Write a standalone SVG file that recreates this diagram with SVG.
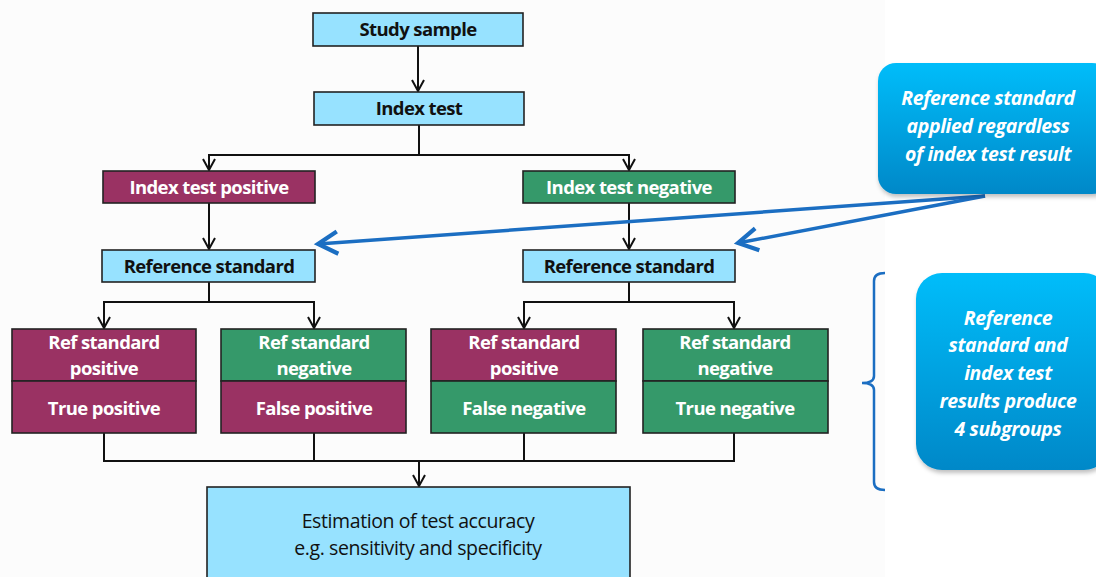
<svg xmlns="http://www.w3.org/2000/svg" width="1096" height="577" viewBox="0 0 1096 577">
<defs>
<style>
.lb{fill:#97E2FF;stroke:#222;stroke-width:1.6}
.mg{fill:#9A3263;stroke:#222;stroke-width:1.6}
.gr{fill:#35996A;stroke:#222;stroke-width:1.6}
.tk{font-family:"Open Sans","Liberation Sans",sans-serif;font-weight:bold;font-size:18.5px;fill:#111;text-anchor:middle;letter-spacing:-0.6px}
.tw{font-family:"Open Sans","Liberation Sans",sans-serif;font-weight:bold;font-size:18.5px;fill:#fff;text-anchor:middle;letter-spacing:-0.6px}
.tn{font-family:"Open Sans","Liberation Sans",sans-serif;font-size:19.5px;fill:#111;text-anchor:middle;letter-spacing:-0.4px}
.ti{font-family:"Open Sans","Liberation Sans",sans-serif;font-weight:bold;font-style:italic;font-size:19.5px;fill:#fff;text-anchor:middle;letter-spacing:-0.4px}
.ln{fill:none;stroke:#111;stroke-width:2}
.bl{fill:none;stroke:#1B6EC2;stroke-width:3.5}
</style>
<marker id="ah" viewBox="0 0 14 14" refX="12" refY="7" markerWidth="14" markerHeight="14" markerUnits="userSpaceOnUse" orient="auto">
<path d="M1,1 L12,7 L1,13" fill="none" stroke="#111" stroke-width="2"/>
</marker>
<marker id="bh" viewBox="0 0 10 10" refX="8" refY="5" markerWidth="8" markerHeight="8" orient="auto">
<path d="M1,1 L8,5 L1,9" fill="none" stroke="#1B6EC2" stroke-width="1.5"/>
</marker>
<linearGradient id="cg" x1="0" y1="0" x2="0" y2="1">
<stop offset="0" stop-color="#00BDFA"/>
<stop offset="1" stop-color="#0088C8"/>
</linearGradient>
<filter id="sh" x="-10%" y="-10%" width="130%" height="130%">
<feDropShadow dx="1" dy="3" stdDeviation="2" flood-color="#000" flood-opacity="0.25"/>
</filter>
</defs>
<rect x="0" y="0" width="1096" height="577" fill="#fff"/>
<rect x="0" y="0" width="885" height="577" fill="#FCFCFC"/>

<g id="connectors">
<path class="ln" d="M418,46 V91" marker-end="url(#ah)"/>
<path class="ln" d="M419,125 V155 H209 V170" marker-end="url(#ah)"/>
<path class="ln" d="M419,155 H629 V170" marker-end="url(#ah)"/>
<path class="ln" d="M209,203 V249" marker-end="url(#ah)"/>
<path class="ln" d="M629,203 V249" marker-end="url(#ah)"/>
<path class="ln" d="M209,282 V302 H104 V328" marker-end="url(#ah)"/>
<path class="ln" d="M209,302 H314 V328" marker-end="url(#ah)"/>
<path class="ln" d="M629,282 V302 H524 V328" marker-end="url(#ah)"/>
<path class="ln" d="M629,302 H734 V328" marker-end="url(#ah)"/>
<path class="ln" d="M104,433 V461 H734 V433"/>
<path class="ln" d="M314,433 V461"/>
<path class="ln" d="M524,433 V461"/>
<path class="ln" d="M419,461 V486" marker-end="url(#ah)"/>
<path class="bl" d="M985,196 L318,244" marker-end="url(#bh)"/>
<path class="bl" d="M985,196 L738,243" marker-end="url(#bh)"/>
<path fill="none" stroke="#1B6EC2" stroke-width="2.5" d="M885,273 Q874,273 874,281 V376 Q874,383 862,383 Q874,383 874,390 V482 Q874,490 885,490"/>
</g>

<g id="study-sample"><rect class="lb" x="313" y="13" width="210" height="33"/><text class="tk" x="418" y="36">Study sample</text></g>
<g id="index-test"><rect class="lb" x="314" y="92" width="210" height="33"/><text class="tk" x="419" y="115">Index test</text></g>
<g id="index-positive"><rect class="mg" x="103" y="171" width="212" height="32"/><text class="tw" x="209" y="194">Index test positive</text></g>
<g id="index-negative"><rect class="gr" x="523" y="171" width="212" height="32"/><text class="tw" x="629" y="194">Index test negative</text></g>
<g id="ref-std-left"><rect class="lb" x="102" y="250" width="213" height="32"/><text class="tk" x="209" y="273">Reference standard</text></g>
<g id="ref-std-right"><rect class="lb" x="523" y="250" width="212" height="32"/><text class="tk" x="629" y="273">Reference standard</text></g>

<g id="true-positive">
<rect class="mg" x="12" y="329" width="184" height="52"/><rect class="mg" x="12" y="381" width="184" height="52"/>
<text class="tw" x="104" y="349">Ref standard</text><text class="tw" x="104" y="375">positive</text><text class="tw" x="104" y="415">True positive</text>
</g>
<g id="false-positive">
<rect class="gr" x="221" y="329" width="185" height="52"/><rect class="mg" x="221" y="381" width="185" height="52"/>
<text class="tw" x="314" y="349">Ref standard</text><text class="tw" x="314" y="375">negative</text><text class="tw" x="314" y="415">False positive</text>
</g>
<g id="false-negative">
<rect class="mg" x="431" y="329" width="185" height="52"/><rect class="gr" x="431" y="381" width="185" height="52"/>
<text class="tw" x="524" y="349">Ref standard</text><text class="tw" x="524" y="375">positive</text><text class="tw" x="524" y="415">False negative</text>
</g>
<g id="true-negative">
<rect class="gr" x="643" y="329" width="185" height="52"/><rect class="gr" x="643" y="381" width="185" height="52"/>
<text class="tw" x="735" y="349">Ref standard</text><text class="tw" x="735" y="375">negative</text><text class="tw" x="735" y="415">True negative</text>
</g>

<g id="estimation">
<rect class="lb" x="207" y="487" width="423" height="100"/>
<text class="tn" x="418" y="528">Estimation of test accuracy</text>
<text class="tn" x="418" y="555">e.g. sensitivity and specificity</text>
</g>

<g id="callout-reference">
<rect x="878" y="63" width="232" height="131" rx="18" fill="url(#cg)" filter="url(#sh)"/>
<text class="ti" x="988" y="105">Reference standard</text>
<text class="ti" x="988" y="133">applied regardless</text>
<text class="ti" x="988" y="161">of index test result</text>
</g>
<g id="callout-subgroups">
<rect x="916" y="273" width="194" height="197" rx="26" fill="url(#cg)" filter="url(#sh)"/>
<text class="ti" x="1008" y="325">Reference</text>
<text class="ti" x="1008" y="352">standard and</text>
<text class="ti" x="1008" y="380">index test</text>
<text class="ti" x="1008" y="408">results produce</text>
<text class="ti" x="1008" y="436">4 subgroups</text>
</g>
</svg>
